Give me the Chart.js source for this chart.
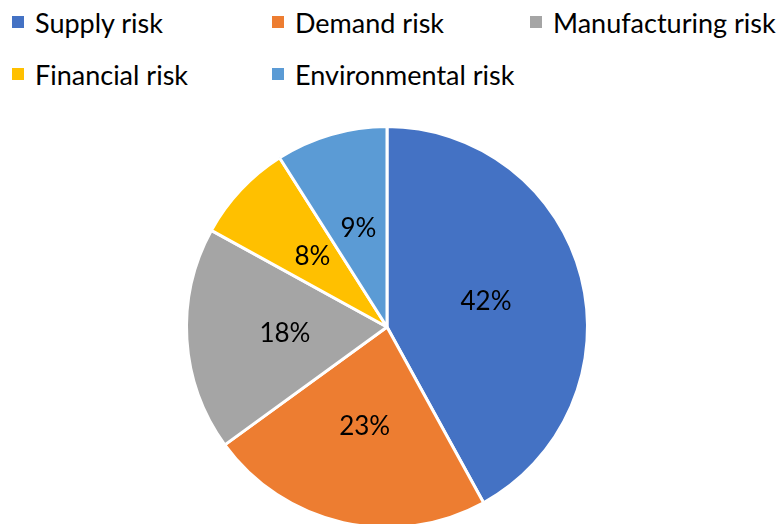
<!DOCTYPE html>
<html lang="en">

<head>
    <meta charset="UTF-8">
    <meta name="viewport" content="width=device-width, initial-scale=1.0">
    <script src="https://cdn.jsdelivr.net/npm/chart.js"></script>
    <title>Risk categories</title>
    <style>
        html, body { margin: 0; padding: 0; background: #fff; overflow: hidden; }
        #wrap { position: relative; width: 781px; height: 524px; overflow: hidden; }
        #legenda {
            position: absolute; left: 0; top: 0; width: 781px;
            font-family: Lato, "Open Sans", sans-serif; font-size: 27px; color: #000;
        }
        .item { position: absolute; display: flex; align-items: center; white-space: nowrap; height: 30px; }
        .item span.box { width: 12px; height: 12px; margin-right: 11px; }
        #grafico { position: absolute; left: 0; top: 0; }
    </style>
</head>

<body>
    <div id="wrap">
        <div id="legenda"></div>
        <canvas id="grafico" width="781" height="540"></canvas>
    </div>

<script>
    const categorias = ['Supply risk', 'Demand risk', 'Manufacturing risk', 'Financial risk', 'Environmental risk'];
    const valores = [42, 23, 18, 8, 9];
    const cores = ['#4472C4', '#ED7D31', '#A5A5A5', '#FFC000', '#5B9BD5'];

    // legenda em grade: 3 colunas, 2 linhas
    const colunasX = [12, 272, 530];
    const linhasY = [7, 59];
    const legenda = document.getElementById('legenda');
    categorias.forEach(function (nome, i) {
        const div = document.createElement('div');
        div.className = 'item';
        div.style.left = colunasX[i % 3] + 'px';
        div.style.top = linhasY[Math.floor(i / 3)] + 'px';
        div.innerHTML = `<span class="box" style="background:${cores[i]}"></span>${nome}`;
        legenda.appendChild(div);
    });

    // rótulos de porcentagem dentro de cada fatia
    const rotulosPlugin = {
        id: 'rotulos',
        afterDatasetsDraw(chart) {
            const ctx = chart.ctx;
            const meta = chart.getDatasetMeta(0);
            ctx.save();
            ctx.font = '26px Lato, "Open Sans", sans-serif';
            ctx.fillStyle = '#000';
            ctx.textAlign = 'center';
            ctx.textBaseline = 'middle';
            meta.data.forEach(function (arc, i) {
                const p = arc.getProps(['x', 'y', 'startAngle', 'endAngle', 'outerRadius'], true);
                const meio = (p.startAngle + p.endAngle) / 2;
                const r = p.outerRadius * 0.51;
                ctx.fillText(valores[i] + '%', p.x + Math.cos(meio) * r, p.y + Math.sin(meio) * r);
            });
            ctx.restore();
        }
    };

    new Chart(document.getElementById('grafico'), {
        type: 'pie',
        data: {
            labels: categorias,
            datasets: [{
                data: valores,
                backgroundColor: cores,
                borderColor: '#ffffff',
                borderWidth: 3
            }]
        },
        options: {
            responsive: false,
            animation: false,
            layout: { padding: { top: 125, bottom: 11, left: 185, right: 192 } },
            plugins: {
                legend: { display: false },
                tooltip: { enabled: false }
            }
        },
        plugins: [rotulosPlugin]
    });
</script>
</body>

</html>
